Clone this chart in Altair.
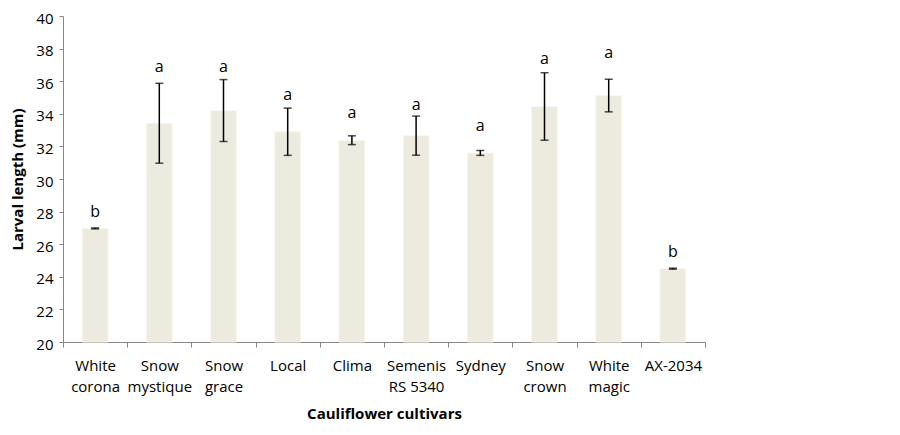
import altair as alt
import pandas as pd

cultivars = ["White|corona", "Snow|mystique", "Snow|grace", "Local", "Clima",
             "Semenis|RS 5340", "Sydney", "Snow|crown", "White|magic", "AX-2034"]
means = [26.97, 33.42, 34.20, 32.90, 32.38, 32.66, 31.60, 34.45, 35.12, 24.50]
errors = [0.03, 2.45, 1.90, 1.45, 0.27, 1.20, 0.15, 2.07, 1.00, 0.03]
letters = ["b", "a", "a", "a", "a", "a", "a", "a", "a", "b"]
letter_y = [27.95, 36.9, 36.9, 35.15, 34.05, 34.55, 33.25, 37.35, 37.7, 25.5]
y_ticks = [20, 22, 24, 26, 28, 30, 32, 34, 36, 38, 40]

df = pd.DataFrame({
    "cultivar": cultivars,
    "mean": means,
    "lo": [m - e for m, e in zip(means, errors)],
    "hi": [m + e for m, e in zip(means, errors)],
    "letter": letters,
    "ly": letter_y,
})

FONT = "Open Sans"
x_scale = alt.Scale(paddingInner=0, paddingOuter=0)
y_scale = alt.Scale(domain=[20, 40], nice=False, zero=False)

x_axis = alt.Axis(
    title="Cauliflower cultivars", labelAngle=0,
    labelExpr="split(datum.label, '|')", labelLineHeight=21,
    labelPadding=11, labelBaseline="top",
    tickBand="extent", tickSize=5, titlePadding=12,
)
y_axis = alt.Axis(
    title="Larval length (mm)", values=y_ticks, tickSize=4,
    labelPadding=6, titlePadding=10, labelOffset=2,
)


def X():
    return alt.X("cultivar:N", sort=cultivars, scale=x_scale, axis=x_axis,
                 title="Cauliflower cultivars")


def Y(field):
    return alt.Y(field, type="quantitative", scale=y_scale, axis=y_axis,
                 title="Larval length (mm)")


bars = alt.Chart(df).mark_bar(
    size=26, color="#EDEBE0", stroke="#F8F7F2", strokeWidth=1
).encode(x=X(), y=Y("mean"), y2=alt.datum(20))

rules = alt.Chart(df).mark_rule(color="black", strokeWidth=1.5).encode(
    x=X(), y=Y("lo"), y2="hi:Q"
)
caps_hi = alt.Chart(df).mark_tick(
    color="black", thickness=1.5, size=8, orient="horizontal"
).encode(x=X(), y=Y("hi"))
caps_lo = alt.Chart(df).mark_tick(
    color="black", thickness=1.5, size=8, orient="horizontal"
).encode(x=X(), y=Y("lo"))

text = alt.Chart(df).mark_text(
    font=FONT, fontSize=16, color="black", baseline="middle"
).encode(x=X(), y=Y("ly"), text="letter:N")

chart = alt.layer(bars, rules, caps_hi, caps_lo, text).properties(
    width=642, height=326,
    autosize=alt.AutoSizeParams(type="none"),
    padding={"left": 55, "top": 8, "right": 187, "bottom": 95},
).configure_view(stroke=None).configure_axis(
    grid=False, labelFont=FONT, labelFontSize=15, labelColor="black",
    titleFont=FONT, titleFontSize=15, titleFontWeight="bold",
    titleColor="black", tickColor="#868686", domainColor="#868686",
)

chart.save("out.html", embed_options={"renderer": "svg", "actions": False})
